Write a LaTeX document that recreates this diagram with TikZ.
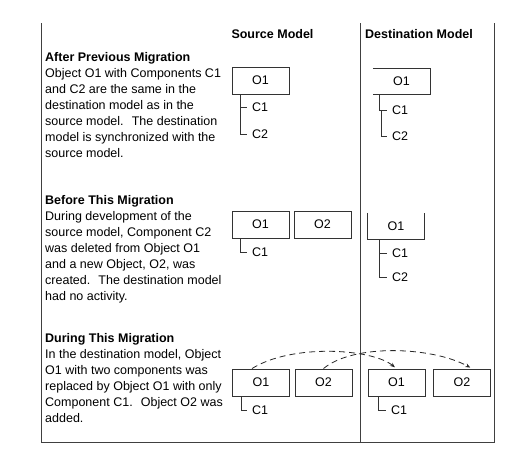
\documentclass[tikz,border=0pt]{standalone}
\usepackage{fontspec}
\setmainfont{Liberation Sans}
\usetikzlibrary{arrows.meta, positioning, calc}
\tikzset{
  obj/.style    ={draw=black!80, minimum width=57pt, minimum height=27pt, inner sep=0pt, line width=0.9pt, font=\fontsize{12.5}{15}\selectfont},
  objopen/.style={minimum width=57pt, minimum height=26pt, inner sep=0pt, font=\fontsize{12.5}{15}\selectfont},
  side/.style   ={draw=black!80, line width=0.9pt},
  comp/.style   ={anchor=west, inner sep=0pt, outer sep=5pt, font=\fontsize{12.5}{15}\selectfont},
  tree/.style   ={draw=black!80, line width=0.9pt},
  mig/.style    ={-{Stealth[length=5pt, width=4pt]}, line width=0.8pt, dash pattern=on 6pt off 4pt, black!85, shorten >=2pt},
  frame/.style  ={draw=black!75, line width=1pt},
  hdr/.style    ={font=\fontsize{12.5}{15}\selectfont\bfseries, inner sep=0pt},
  desc/.style   ={anchor=north west, align=left, inner sep=0pt, font=\fontsize{12.5}{16}\selectfont},
}
\begin{document}
\begin{tikzpicture}[x=1pt, y=-1pt]
  \useasboundingbox (0,0) rectangle (522,455);
  \draw[frame] (41,23) -- (41,442) -- (494,442) -- (494,23);
  \draw[frame] (360,23) -- (360,442);
  \node[hdr] (hsrc) at (272.5,34) {Source Model};
  \node[hdr] (hdst) at (419,34) {Destination Model};

  % after previous migration
  \node[desc] (dprev) at (45,52) {\textbf{After Previous Migration}\\
    Object O1 with Components C1\\ and C2 are the same in the\\
    destination model as in the\\ source model.~ The destination\\
    model is synchronized with the\\ source model.};
  \node[obj] (o1a) at (260.5,80.5) {O1};
  \node[comp] (c1a) at (247,107) {C1};
  \node[comp] (c2a) at (247,134) {C2};
  \draw[tree] ([xshift=8.5pt]o1a.south west) |- (c1a.west);
  \draw[tree] ([xshift=8.5pt]o1a.south west) |- (c2a.west);
  \node[objopen] (o1b) at (401.5,81.5) {O1};
  \draw[side] (o1b.north west) -- (o1b.north east) -- (o1b.south east) -- (o1b.south west);
  \node[comp] (c1b) at (387,110) {C1};
  \node[comp] (c2b) at (387,136) {C2};
  \draw[tree] ([xshift=6.5pt]o1b.south west) |- (c1b.west);
  \draw[tree] ($(o1b.south west |- c1b.west)+(9,0)$) |- (c2b.west);

  % before this migration
  \node[desc] (dbefore) at (45,195.5) {\textbf{Before This Migration}\\
    During development of the\\ source model, Component C2\\
    was deleted from Object O1\\ and a new Object, O2, was\\
    created.~ The destination model\\ had no activity.};
  \node[obj] (o1c) at (260.5,224.5) {O1};
  \node[obj] (o2c) at (322.5,224.5) {O2};
  \node[comp] (c1c) at (247,252) {C1};
  \draw[tree] ([xshift=8.5pt]o1c.south west) |- (c1c.west);
  \node[objopen] (o1d) at (396,226) {O1};
  \draw[side] (o1d.north west) -- (o1d.south west) -- (o1d.south east) -- (o1d.north east);
  \node[comp] (c1d) at (387,253) {C1};
  \node[comp] (c2d) at (387,277) {C2};
  \draw[tree] ([xshift=12pt]o1d.south west) |- (c1d.west);
  \draw[tree] ([xshift=12pt]o1d.south west) |- (c2d.west);

  % during this migration
  \node[desc] (dduring) at (45,333.5) {\textbf{During This Migration}\\
    In the destination model, Object\\ O1 with two components was\\
    replaced by Object O1 with only\\ Component C1.~ Object O2 was\\
    added.};
  \node[obj] (o1e) at (261,382.5) {O1};
  \node[obj] (o2e) at (323.5,382.5) {O2};
  \node[comp] (c1e) at (247,410) {C1};
  \draw[tree] ([xshift=9pt]o1e.south west) |- (c1e.west);
  \node[obj] (o1f) at (396.5,382.5) {O1};
  \node[obj] (o2f) at (462,382.5) {O2};
  \node[comp] (c1f) at (386,410) {C1};
  \draw[tree] ([xshift=11pt]o1f.south west) |- (c1f.west);
  \draw[mig] ([xshift=-9pt]o1e.north) .. controls +(40,-25) and +(-25,-20) .. (o1f.north);
  \draw[mig] (o2e.north) .. controls +(30,-25) and +(-40,-22) .. ([xshift=10pt]o2f.north);
\end{tikzpicture}
\end{document}
